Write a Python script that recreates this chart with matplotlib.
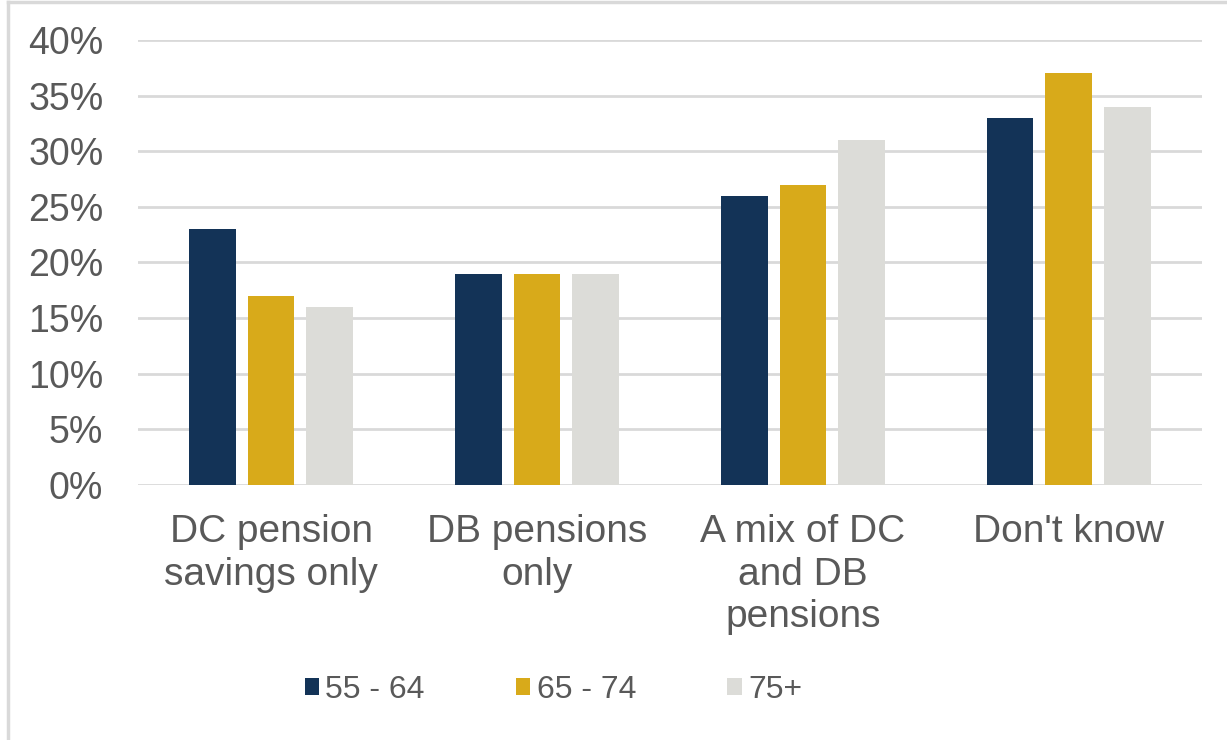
import matplotlib.pyplot as plt
import numpy as np
from matplotlib.lines import Line2D

plt.rcParams['font.family'] = ['Liberation Sans', 'DejaVu Sans']

categories = ['DC pension\nsavings only', 'DB pensions\nonly', 'A mix of DC\nand DB\npensions', "Don't know"]
series = ['55 - 64', '65 - 74', '75+']
values = {
    '55 - 64': [23, 19, 26, 33],
    '65 - 74': [17, 19, 27, 37],
    '75+': [16, 19, 31, 34],
}
colors = ['#133357', '#D8AA1A', '#DCDCD8']
text_col = '#595959'

fig = plt.figure(figsize=(12.27, 7.4), dpi=100)
ax = fig.add_axes([0.1125, 0.3446, 0.867, 0.6014])

x = np.arange(len(categories))
w = 0.176
pitch = 0.221
for i, s in enumerate(series):
    ax.bar(x + (i - 1) * pitch, np.array(values[s]) / 100, width=w, color=colors[i],
           label=s, zorder=3)

ax.set_xlim(-0.5, 3.5)
ax.set_ylim(0, 0.4)
ticks = np.arange(0, 0.41, 0.05)
ax.set_yticks(ticks)
ax.set_yticklabels([f'{int(round(v*100))}%' for v in ticks], fontsize=27)
ax.set_xticks(x)
ax.set_xticklabels(categories, linespacing=1.23, fontsize=28)
ax.tick_params(axis='both', length=0, colors=text_col)
ax.tick_params(axis='y', pad=25)
ax.tick_params(axis='x', pad=21)
ax.grid(axis='y', color='#D9D9D9', linewidth=2, zorder=0)
for sp in ax.spines.values():
    sp.set_visible(False)

leg = fig.legend(loc='center', bbox_to_anchor=(0.451, 0.068), ncol=3, frameon=False,
                 fontsize=23, handlelength=0.45, handleheight=0.45, handletextpad=0.2,
                 columnspacing=2.85, labelcolor=text_col)

# outer chart frame (left and top edges visible)
fig.add_artist(Line2D([0.0062, 0.0062], [0, 0.997], transform=fig.transFigure,
                      color='#D9D9D9', linewidth=2.5))
fig.add_artist(Line2D([0.0062, 1], [0.997, 0.997], transform=fig.transFigure,
                      color='#D9D9D9', linewidth=2.5))

fig.savefig('out.png', dpi=100)
